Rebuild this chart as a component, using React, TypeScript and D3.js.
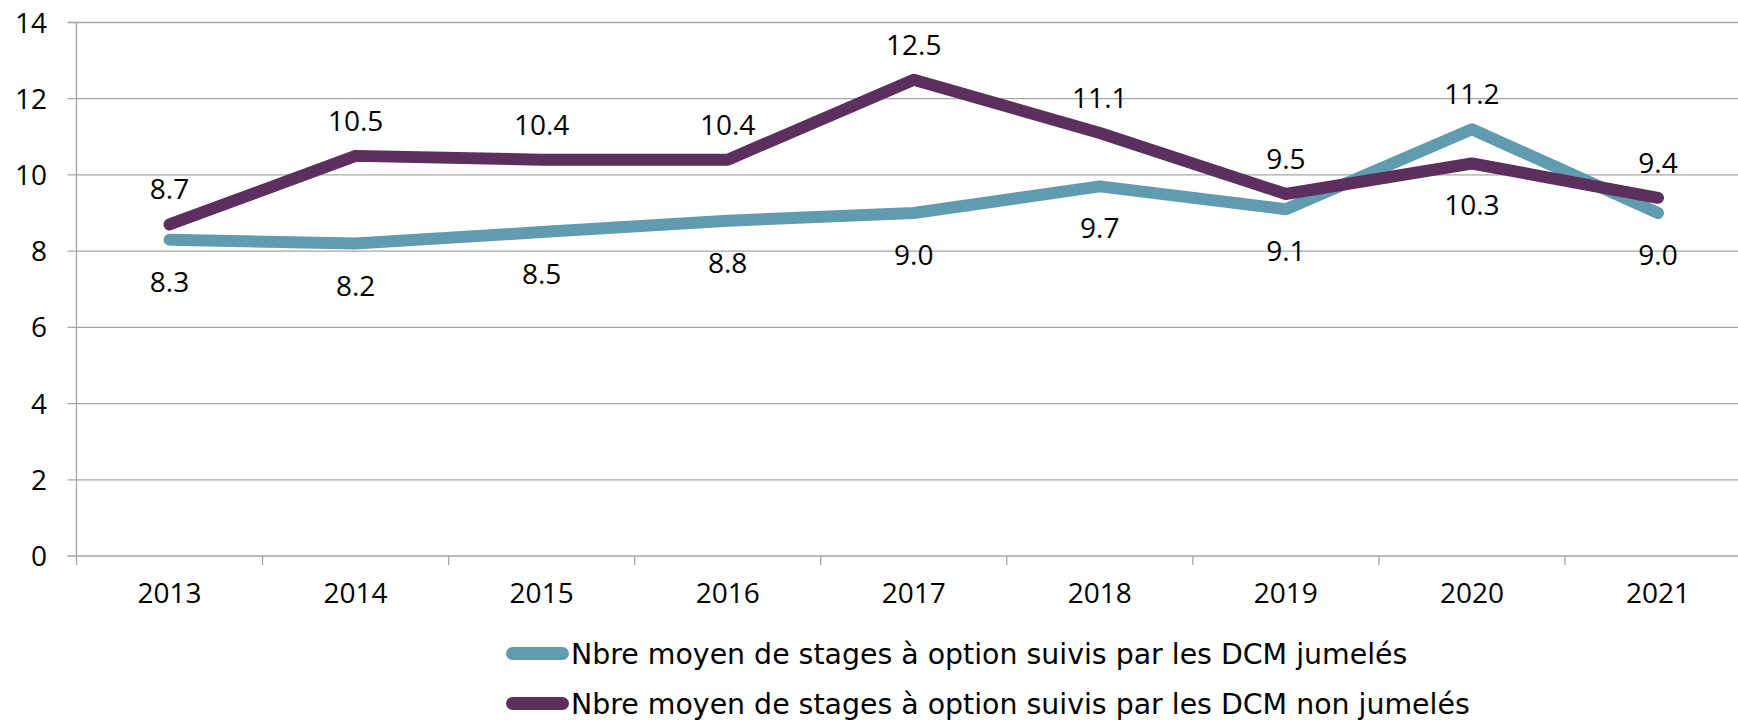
import { useEffect, useRef } from 'react';
import * as d3 from 'd3';

const years = ['2013', '2014', '2015', '2016', '2017', '2018', '2019', '2020', '2021'];
const jumeles = [8.3, 8.2, 8.5, 8.8, 9.0, 9.7, 9.1, 11.2, 9.0];
const nonJumeles = [8.7, 10.5, 10.4, 10.4, 12.5, 11.1, 9.5, 10.3, 9.4];
// where each value label sits relative to its point
const jumelesLabelPos = ['below', 'below', 'below', 'below', 'below', 'below', 'below', 'above', 'below'];
const nonJumelesLabelPos = ['above', 'above', 'above', 'above', 'above', 'above', 'above', 'below', 'above'];
const yTicks = [0, 2, 4, 6, 8, 10, 12, 14];
const seriesNames = [
  'Nbre moyen de stages à option suivis par les DCM jumelés',
  'Nbre moyen de stages à option suivis par les DCM non jumelés',
];
const colors = ['#619bb0', '#5c2f5e'];

const App = () => {
  const ref = useRef(null);
  const width = 1738;
  const height = 720;
  const marginLeft = 76.5;
  const marginRight = -13;
  const marginTop = 22.5;
  const marginBottom = 164;

  useEffect(() => {
    document.body.style.margin = '0';
    const svg = d3.select(ref.current);
    svg.selectAll('*').remove();

    const x = d3.scaleBand().domain(years).range([marginLeft, width - marginRight]);
    const y = d3.scaleLinear().domain([0, 14]).range([height - marginBottom, marginTop]);
    const font = "'Open Sans', 'Noto Sans', sans-serif";
    const legendFont = "'DejaVu Sans', sans-serif";
    const cx = (d: string) => x(d) + x.bandwidth() / 2;

    // gridlines
    svg.append('g')
      .selectAll('line')
      .data(yTicks)
      .join('line')
      .attr('x1', marginLeft - 9)
      .attr('x2', width)
      .attr('y1', d => y(d))
      .attr('y2', d => y(d))
      .attr('stroke', '#a6a6a6')
      .attr('stroke-width', 1.3);

    // y axis
    svg.append('line')
      .attr('x1', marginLeft).attr('x2', marginLeft)
      .attr('y1', y(14)).attr('y2', y(0) + 9)
      .attr('stroke', '#a6a6a6').attr('stroke-width', 1.3);

    svg.append('g')
      .selectAll('text')
      .data(yTicks)
      .join('text')
      .attr('x', 47)
      .attr('y', d => y(d))
      .attr('dy', '0.36em')
      .attr('text-anchor', 'end')
      .attr('font-family', font)
      .attr('font-size', 28)
      .attr('fill', '#000')
      .text(d => d);

    // x axis ticks at band edges
    svg.append('g')
      .selectAll('line')
      .data(years.slice(1))
      .join('line')
      .attr('x1', d => x(d)).attr('x2', d => x(d))
      .attr('y1', y(0)).attr('y2', y(0) + 9)
      .attr('stroke', '#a6a6a6').attr('stroke-width', 1.3);

    svg.append('g')
      .selectAll('text')
      .data(years)
      .join('text')
      .attr('x', d => cx(d))
      .attr('y', y(0) + 47)
      .attr('text-anchor', 'middle')
      .attr('font-family', font)
      .attr('font-size', 28)
      .attr('fill', '#000')
      .text(d => d);

    const line = d3.line<number>()
      .x((_, i) => cx(years[i]))
      .y(d => y(d));

    const series = [
      { values: jumeles, pos: jumelesLabelPos },
      { values: nonJumeles, pos: nonJumelesLabelPos },
    ];

    series.forEach((s, k) => {
      svg.append('path')
        .attr('d', line(s.values))
        .attr('fill', 'none')
        .attr('stroke', colors[k])
        .attr('stroke-width', 12)
        .attr('stroke-linejoin', 'round')
        .attr('stroke-linecap', 'round');
    });

    series.forEach(s => {
      svg.append('g')
        .selectAll('text')
        .data(s.values)
        .join('text')
        .attr('x', (_, i) => cx(years[i]))
        .attr('y', (d, i) => y(d) + (s.pos[i] === 'above' ? -25 : 52))
        .attr('text-anchor', 'middle')
        .attr('font-family', font)
        .attr('font-size', 28)
        .attr('fill', '#000')
        .text(d => d3.format('.1f')(d));
    });

    // legend
    const legend = svg.append('g');
    seriesNames.forEach((name, k) => {
      const ly = 653.5 + k * 50;
      legend.append('line')
        .attr('x1', 512.5).attr('x2', 562.5)
        .attr('y1', ly).attr('y2', ly)
        .attr('stroke', colors[k])
        .attr('stroke-width', 13)
        .attr('stroke-linecap', 'round');
      legend.append('text')
        .attr('x', 571)
        .attr('y', ly)
        .attr('dy', '0.36em')
        .attr('font-family', legendFont)
        .attr('font-size', 28.4)
        .attr('fill', '#000')
        .text(name);
    });
  }, []);

  return (
    <svg
      ref={ref}
      width={width}
      height={height}
      viewBox={`0 0 ${width} ${height}`}
      style={{ display: 'block', background: '#fff' }}
    />
  );
};

export default App;
